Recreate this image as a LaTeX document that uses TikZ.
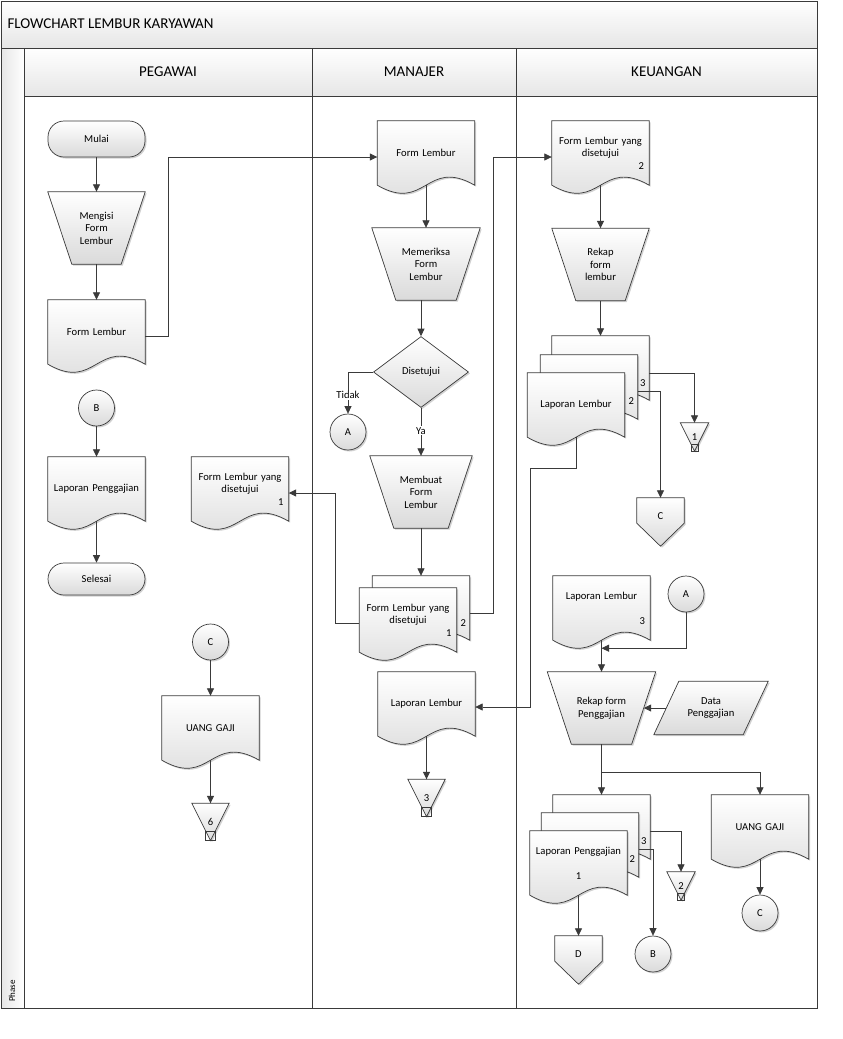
\documentclass[tikz,border=0pt]{standalone}
\usepackage{fontspec}
\setmainfont{Carlito}
\usetikzlibrary{positioning,shapes.geometric,arrows.meta,backgrounds,shadows}
\definecolor{garis}{HTML}{3A3A3A}
\definecolor{isi}{HTML}{DADADA}
\definecolor{bar}{HTML}{E6E6E6}
\newcommand\teks{\fontsize{10.6}{12.6}\selectfont}
\newcommand\judul{\fontsize{15}{18}\selectfont}
\newcommand\kecil{\fontsize{9}{10}\selectfont}
\newcommand\kanan[1]{\hspace*{0pt plus 1fill}#1}

\begin{document}
\begin{tikzpicture}[x=1pt,y=-1pt,
  font=\teks,
  bentuk/.style={draw=garis,line width=0.7pt,top color=white,bottom color=isi,
    drop shadow={shadow xshift=1.5pt,shadow yshift=-1.5pt,opacity=0.18,fill=black}},
  terminal/.style={bentuk,rectangle,rounded corners=16pt,minimum width=97pt,minimum height=#1},
  manual/.style={rectangle,minimum width=#1,minimum height=72pt,align=center,inner sep=1pt,
    append after command={\pgfextra{\edef\dokname{\tikzlastnode}%
      \begin{pgfonlayer}{background}
      \draw[bentuk] (\dokname.north west) -- (\dokname.north east) -- ([xshift=-24pt]\dokname.south east)
        -- ([xshift=24pt]\dokname.south west) -- cycle;
      \end{pgfonlayer}}}},
  data/.style={rectangle,minimum width=114pt,minimum height=53pt,align=center,inner sep=1pt,
    append after command={\pgfextra{\edef\dokname{\tikzlastnode}%
      \begin{pgfonlayer}{background}
      \draw[bentuk] ([xshift=25pt]\dokname.north west) -- (\dokname.north east) -- ([xshift=-25pt]\dokname.south east)
        -- (\dokname.south west) -- cycle;
      \end{pgfonlayer}}}},
  keputusan/.style={bentuk,diamond,minimum width=95pt,minimum height=71pt,inner sep=0pt},
  konektor/.style={bentuk,circle,minimum size=36pt,inner sep=0pt},
  dok/.style={rectangle,minimum width=97pt,minimum height=64pt,text width=87pt,
    inner xsep=5pt,inner ysep=1pt,align=center,
    append after command={\pgfextra{\edef\dokname{\tikzlastnode}%
      \begin{pgfonlayer}{background}
      \draw[bentuk] (\dokname.north west) -- (\dokname.north east) -- (\dokname.south east)
        .. controls ([yshift=28pt]\dokname.south) and ([yshift=-28pt]\dokname.south) .. (\dokname.south west) -- cycle;
      \end{pgfonlayer}}}},
  offpage/.style={rectangle,minimum width=47pt,minimum height=36pt,inner sep=0pt,
    append after command={\pgfextra{\edef\dokname{\tikzlastnode}%
      \begin{pgfonlayer}{background}
      \draw[bentuk] (\dokname.north west) -- (\dokname.north east) -- ([yshift=11pt]\dokname.south east)
        -- ([yshift=-12pt]\dokname.south) -- ([yshift=11pt]\dokname.south west) -- cycle;
      \end{pgfonlayer}}}},
  arsip/.style={rectangle,minimum width=#1,minimum height=#1,inner sep=0pt,
    append after command={\pgfextra{\edef\dokname{\tikzlastnode}%
      \begin{pgfonlayer}{background}
      \draw[bentuk] (\dokname.north west) -- (\dokname.north east) -- (\dokname.south) -- cycle;
      \draw[draw=garis,line width=0.7pt] ([xshift=-0.13*#1]\dokname.south) rectangle ([xshift=0.13*#1,yshift=0.26*#1]\dokname.south);
      \end{pgfonlayer}}}},
  num/.style={inner sep=0pt},
  lbl/.style={fill=white,inner sep=1pt},
  arr/.style={draw=garis,line width=0.8pt,-{Triangle[length=7.5pt,width=7pt]}},
  bingkai/.style={draw=garis,line width=1pt}]

\useasboundingbox (0,0) rectangle (843,1039);

% swimlane frame
\fill[top color=white,bottom color=bar] (1,1) rectangle (817,48);
\fill[top color=white,bottom color=bar] (24,48) rectangle (817,96);
\fill[left color=bar,right color=white] (1,48) rectangle (24,1008);
\draw[bingkai] (1,1) rectangle (817,1008);
\draw[bingkai] (1,48) -- (817,48);
\draw[bingkai] (24,96) -- (817,96);
\draw[bingkai] (24,48) -- (24,1008);
\draw[bingkai] (312,48) -- (312,1008);
\draw[bingkai] (516,48) -- (516,1008);
\node[anchor=west,font=\judul] (judul) at (4,24) {FLOWCHART LEMBUR KARYAWAN};
\node[font=\judul] (hpeg) at (168,72) {PEGAWAI};
\node[font=\judul] (hman) at (414,72) {MANAJER};
\node[font=\judul] (hkeu) at (666.5,72) {KEUANGAN};
\node[rotate=90,font=\kecil] (phase) at (12,991) {Phase};

% pegawai
\node[terminal=36pt] (mulai) at (96.5,139) {Mulai};
\node[manual=97pt] (mengisi) at (96.5,228) {Mengisi\\Form\\Lembur};
\node[dok] (formA) at (96.5,332) {Form Lembur};
\node[konektor] (conB) at (96.5,408) {B};
\node[dok] (lapgaji) at (96.5,489) {Laporan Penggajian};
\node[terminal=32pt] (selesai) at (96.5,579) {Selesai};
\node[dok] (fls1) at (240,489) {Form Lembur yang\\disetujui\\\kanan{1}};
\node[konektor] (conC) at (210.5,642) {C};
\node[dok] (uang1) at (210.5,728) {UANG GAJI};
\node[arsip=37pt] (arsip6) at (210.5,822) {6};

% manajer
\node[dok] (formB) at (426,153) {Form Lembur};
\node[manual=108pt] (memeriksa) at (426,264) {Memeriksa\\Form\\Lembur};
\node[keputusan] (disetujui) at (421,372) {Disetujui};
\node[konektor] (conA) at (348,432) {A};
\node[manual=102pt] (membuat) at (421,492) {Membuat\\Form\\Lembur};
\node[dok] (mback) at (421,608) {};
\node[dok] (mfront) at (408,620) {Form Lembur yang\\disetujui\\\kanan{1}};
\node[num] (mback2) at ([xshift=-6.5pt,yshift=-15pt]mback.east) {2};
\node[dok] (lapM) at (426.5,704) {Laporan Lembur};
\node[arsip=37pt] (arsip3) at (426.5,798) {3};

% keuangan
\node[dok] (fls2) at (600.5,153) {Form Lembur yang\\disetujui\\\kanan{2}};
\node[manual=97pt] (rekapL) at (600.5,264.5) {Rekap\\form\\lembur};
\node[dok] (kback) at (600.5,368) {};
\node[dok] (kmid) at (589,387) {};
\node[dok] (kfront) at (576,405) {Laporan Lembur};
\node[num] (kback3) at ([xshift=-6.5pt,yshift=-15pt]kback.east) {3};
\node[num] (kmid2) at ([xshift=-6.5pt,yshift=-14pt]kmid.east) {2};
\node[arsip=28pt] (arsip1) at (694.5,437) {1};
\node[offpage] (offC) at (660.5,516) {C};
\node[dok] (LL3) at (601.5,608) {Laporan Lembur\\\mbox{}\\\kanan{3}};
\node[konektor] (conA2) at (686,594) {A};
\node[manual=108pt] (rekapG) at (601.5,708) {Rekap form\\Penggajian};
\node[data] (dataG) at (711,708) {Data\\Penggajian};
\node[dok] (pback) at (601.5,827) {};
\node[dok] (pmid) at (590,845) {};
\node[dok] (pfront) at (578.5,863) {Laporan Penggajian\\\mbox{}\\1};
\node[num] (pback3) at ([xshift=-6.5pt,yshift=-14pt]pback.east) {3};
\node[num] (pmid2) at ([xshift=-6.5pt,yshift=-14pt]pmid.east) {2};
\node[arsip=28pt] (arsip2) at (681,886) {2};
\node[konektor] (conB2) at (653,954) {B};
\node[offpage] (offD) at (578.5,954) {D};
\node[dok] (uang2) at (760,827) {UANG GAJI};
\node[konektor] (conC2) at (760,913) {C};

% alur pegawai
\draw[arr] (mulai) -- (mengisi);
\draw[arr] (mengisi) -- (formA);
\draw[arr] ([yshift=-4pt]formA.east) -- ++(23,0) |- ([yshift=-4pt]formB.west);
\draw[arr] (conB) -- (lapgaji);
\draw[arr] (lapgaji) -- (selesai);
\draw[arr] (conC) -- (uang1);
\draw[arr] (uang1) -- (arsip6);

% alur manajer
\draw[arr] (formB) -- (formB |- memeriksa.north);
\draw[arr] (memeriksa.south -| disetujui.north) -- (disetujui.north);
\draw[arr] (disetujui.west) -| node[lbl,pos=0.78] (tidak) {Tidak} (conA.north);
\draw[arr] (disetujui.south) -- node[lbl,pos=0.48] (ya) {Ya} (membuat.north);
\draw[arr] (membuat) -- (mback);
\draw[arr] ([yshift=-3pt]mfront.west) -- ++(-24,0) |- ([yshift=-4pt]fls1.east);
\draw[arr] ([yshift=-5pt]mback.east) -- ++(24,0) |- ([yshift=-4pt]fls2.west);
\draw[arr] (lapM) -- (arsip3);

% alur keuangan
\draw[arr] (fls2) -- (rekapL);
\draw[arr] (rekapL) -- (kback);
\draw[arr] ([yshift=-5pt]kback.east) -| (arsip1.north);
\draw[arr] ([yshift=-4pt]kmid.east) -| (offC.north);
\draw[arr] (kfront.south) -- ++(0,31) -| ([xshift=55pt,yshift=-3pt]lapM.east) -- ([yshift=-3pt]lapM.east);
\draw[arr] (conA2.south) |- ([yshift=-8pt]LL3.south);
\draw[arr] (LL3) -- (rekapG);
\draw[arr] ([xshift=12.5pt]dataG.west) -- ([xshift=-12pt]rekapG.east);
\draw[arr] (rekapG) -- (pback);
\draw[arr] (rekapG.south) -- ++(0,28) -| (uang2.north);
\draw[arr] ([yshift=-4pt]pback.east) -| (arsip2.north);
\draw[arr] ([yshift=-4pt]pmid.east) -| (conB2.north);
\draw[arr] (pfront) -- (offD);
\draw[arr] (uang2) -- (conC2);
\end{tikzpicture}
\end{document}
